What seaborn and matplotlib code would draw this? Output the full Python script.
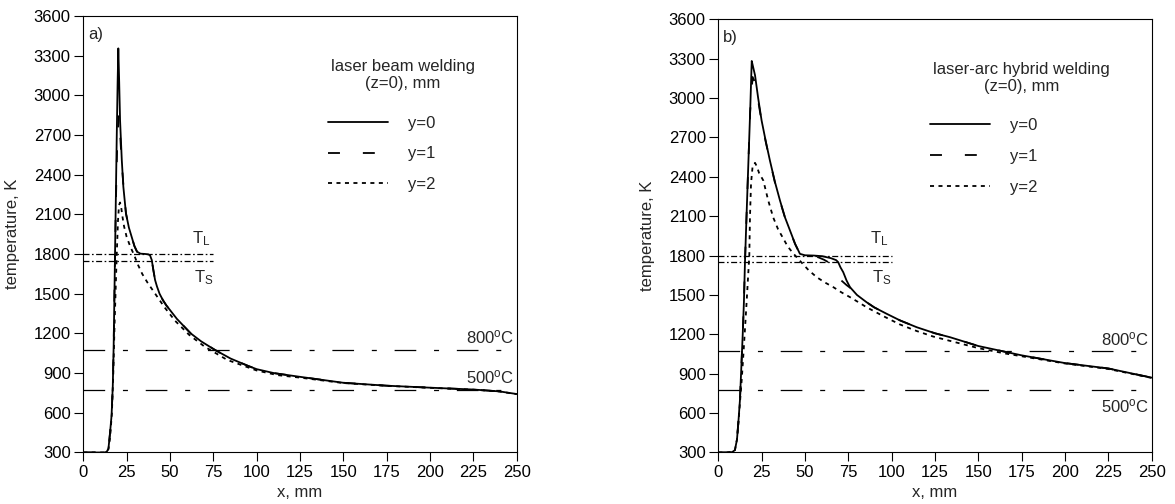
import numpy as np
import pandas as pd
import seaborn as sns
import matplotlib
import matplotlib.pyplot as plt
plt.switch_backend('agg')

# ---- data (x in mm, temperature in K) ----
series_names = ["y=0", "y=1", "y=2"]
x_ticks = [0, 25, 50, 75, 100, 125, 150, 175, 200, 225, 250]
t_ticks = [300, 600, 900, 1200, 1500, 1800, 2100, 2400, 2700, 3000, 3300, 3600]

# a) laser beam welding
a_x0 = [0, 12, 13.5, 14.5, 15.4, 16.3, 17.0, 17.5, 17.9, 18.3, 18.8, 19.3, 19.8, 20.2, 20.7, 21.2, 22.2, 23.1,
        24.6, 26.3, 27.9, 29.5, 31, 33, 35.5, 37.5, 38.5, 39.5, 40.4, 41.4, 42.5, 44, 46, 48, 50, 54, 58, 62,
        68, 76, 85, 95, 100, 110, 125, 150, 175, 200, 225, 240, 250]
a_t0 = [300, 300, 305, 330, 445, 580, 800, 1100, 1450, 1800, 2250, 2700, 3100, 3355, 3100, 2813, 2511, 2309,
        2108, 2000, 1930, 1860, 1818, 1803, 1801, 1798, 1790, 1755, 1680, 1604, 1555, 1500, 1450, 1410, 1377,
        1310, 1255, 1200, 1140, 1075, 1010, 955, 930, 900, 872, 827, 805, 790, 776, 762, 742]
a_x1 = [0, 12, 13.5, 14.5, 15.4, 16.3, 17.0, 17.5, 17.9, 18.3, 18.9, 19.6, 20.5, 21.1, 21.7, 22.4, 23.3,
        24.6, 26.3, 27.9, 29.5, 31, 33, 35.5, 37.5, 38.5, 39.5, 40.4, 41.4, 42.5, 44, 46, 48, 50, 54, 58, 62,
        68, 76, 85, 95, 100, 110, 125, 150, 175, 200, 225, 240, 250]
a_t1 = [300, 300, 305, 330, 445, 580, 800, 1100, 1450, 1800, 2250, 2650, 2850, 2740, 2600, 2450, 2290,
        2108, 2000, 1930, 1860, 1818, 1803, 1801, 1798, 1790, 1755, 1680, 1604, 1555, 1500, 1450, 1410, 1377,
        1310, 1255, 1200, 1140, 1075, 1010, 955, 930, 900, 872, 827, 805, 790, 776, 762, 742]
a_x2 = [0, 12, 13.5, 14.5, 15.5, 16.5, 17.3, 18, 18.7, 19.3, 20, 20.6, 21.2, 21.8, 22.5, 23.5, 25, 27,
        29.4, 31.5, 34, 37, 42, 47, 53, 61, 70, 83, 100, 112, 125, 150, 175, 200, 225, 240, 250]
a_t2 = [300, 300, 305, 325, 420, 600, 900, 1250, 1550, 1800, 2050, 2170, 2190, 2160, 2090, 2010, 1930, 1860,
        1790, 1720, 1650, 1585, 1490, 1395, 1295, 1190, 1100, 1000, 920, 885, 866, 825, 804, 789, 775, 761, 741]

# b) laser-arc hybrid welding
b_x0 = [0, 5, 8, 9.6, 10.8, 11.7, 12.5, 13.3, 14.1, 14.8, 15.4, 16.4, 17.4, 18.4, 19.3, 20.2, 21.2, 23, 25,
        27.4, 29.8, 32.7, 35.6, 38.5, 41.4, 44.3, 47.1, 50, 55, 60, 65, 68, 69.2, 70.5, 72.1, 74, 76, 80, 85.6,
        90, 97.2, 105, 114.5, 125, 133.7, 150, 175, 200, 225, 250]
b_t0 = [300, 300, 303, 318, 400, 550, 700, 950, 1200, 1450, 1750, 2140, 2520, 2900, 3282, 3230, 3173, 3000,
        2828, 2670, 2523, 2360, 2219, 2090, 1990, 1890, 1813, 1802, 1800, 1795, 1780, 1765, 1749, 1710, 1673,
        1610, 1559, 1500, 1444, 1405, 1356, 1305, 1254, 1208, 1178, 1111, 1040, 981, 940, 870]
b_x1 = [0, 5, 8, 9.6, 10.8, 11.7, 12.5, 13.3, 14.1, 14.8, 15.4, 16.4, 17.4, 18.4, 19.8, 21.2, 23, 25, 27.4,
        29.8, 32.7, 35.6, 38.5, 41.4, 44.3, 47.1, 50, 55, 58, 61, 63.5, 65.4, 68, 71, 74, 77, 80, 85.6, 90,
        97.2, 105, 114.5, 125, 133.7, 150, 175, 200, 225, 250]
b_t1 = [300, 300, 303, 318, 400, 550, 700, 950, 1200, 1450, 1750, 2140, 2520, 2900, 3160, 3120, 2980, 2820,
        2665, 2520, 2355, 2215, 2088, 1988, 1888, 1812, 1801, 1797, 1785, 1768, 1749, 1711, 1660, 1610, 1575,
        1545, 1500, 1444, 1405, 1356, 1305, 1254, 1208, 1178, 1111, 1040, 981, 940, 870]
b_x2 = [0, 5, 8, 9.6, 10.8, 11.7, 12.5, 13.5, 14.5, 15.5, 16.4, 17.2, 17.9, 18.3, 18.9, 19.8, 21.2, 22.2,
        23.5, 26, 28.8, 31.7, 34.5, 37.5, 40, 43, 47.1, 52, 56.8, 61.5, 66.4, 71, 76, 80.8, 85.6, 95, 104.8,
        114.5, 124, 133.7, 150, 165, 175, 200, 225, 250]
b_t2 = [300, 300, 303, 318, 400, 540, 680, 850, 1050, 1260, 1457, 1640, 1800, 2100, 2350, 2480, 2506, 2480,
        2430, 2371, 2220, 2090, 2000, 1930, 1870, 1820, 1760, 1690, 1635, 1595, 1559, 1520, 1483, 1445, 1406,
        1340, 1275, 1225, 1183, 1150, 1095, 1055, 1033, 978, 936, 868]

# reference temperatures, K
t_liquidus = 1800
t_solidus = 1750
t_800c = 1073
t_500c = 773

sns.set_style("ticks")
plt.rcParams['font.family'] = ['Liberation Sans', 'DejaVu Sans']
plt.rcParams['mathtext.fontset'] = 'custom'
plt.rcParams['mathtext.rm'] = 'Liberation Sans'
plt.rcParams['lines.scale_dashes'] = False
plt.rcParams['axes.linewidth'] = 0.8

FS = 12
dash_map = {"y=0": "", "y=1": (8.6, 16.5), "y=2": (2.9, 3.2)}


def long_frame(xs, ts):
    frames = []
    for name, x, t in zip(series_names, xs, ts):
        frames.append(pd.DataFrame({"x": x, "T": t, "series": name}))
    return pd.concat(frames, ignore_index=True)


def draw_panel(ax, xs, ts, tag, title, thr_end, tl_pos, ts_pos, lbl800, lbl500, leg_anchor, title_pos):
    df = long_frame(xs, ts)
    sns.lineplot(data=df, x="x", y="T", style="series", style_order=series_names, dashes=dash_map,
                 color="black", linewidth=1.3, estimator=None, sort=False, legend=False, ax=ax)
    handles = ax.get_lines()[:3]

    # liquidus / solidus
    ax.hlines([t_liquidus, t_solidus], 0, thr_end, colors="black", linewidth=0.9,
              linestyles=[(0, (4.3, 1.8, 1.2, 1.8))])
    # 800 C and 500 C
    for tt in (t_800c, t_500c):
        ax.axhline(tt, color="black", linewidth=0.9, linestyle=(0, (15.6, 12.8, 3.6, 12.8)))

    ax.text(tl_pos[0], tl_pos[1], r"$\mathregular{T_L}$", fontsize=FS, va="baseline", ha="left")
    ax.text(ts_pos[0], ts_pos[1], r"$\mathregular{T_S}$", fontsize=FS, va="baseline", ha="left")
    ax.text(248.5, lbl800, r"$\mathregular{800^oC}$", fontsize=FS, va="baseline", ha="right")
    ax.text(248.5, lbl500, r"$\mathregular{500^oC}$", fontsize=FS, va="baseline", ha="right")
    ax.text(2.7, 3458, tag, fontsize=FS, va="center", ha="left")

    ax.text(title_pos[0], title_pos[1], title, fontsize=FS, ha="center", va="center",
            multialignment="center", transform=ax.transAxes, linespacing=1.2)
    ax.legend(handles, series_names, loc="upper left", bbox_to_anchor=leg_anchor, frameon=False,
              fontsize=FS, borderpad=0, borderaxespad=0, handlelength=3.6, handletextpad=1.2,
              labelspacing=0.95)

    ax.set_xlim(0, 250)
    ax.set_ylim(300, 3600)
    ax.set_xticks(x_ticks)
    ax.set_yticks(t_ticks)
    ax.tick_params(direction="out", length=6.5, width=0.8, pad=2.5, labelsize=FS, colors="black")
    for pos in ['right', 'top', 'bottom', 'left']:
        ax.spines[pos].set_visible(True)
        ax.spines[pos].set_color("black")
    ax.set_xlabel("x, mm", fontsize=FS)
    ax.set_ylabel("temperature, K", fontsize=FS)
    ax.xaxis.set_label_coords(0.5, -0.075)
    ax.yaxis.set_label_coords(-0.147, 0.5)


fig = plt.figure(figsize=(11.75, 5.04), dpi=100)
ax_a = fig.add_axes([0.0709, 0.1022, 0.3688, 0.8661])
ax_b = fig.add_axes([0.6113, 0.1022, 0.3688, 0.8597])

draw_panel(ax_a, [a_x0, a_x1, a_x2], [a_t0, a_t1, a_t2], "a)", "laser beam welding\n(z=0), mm",
           75, (62.7, 1885), (64.0, 1585), 1122, 826, (0.565, 0.772), (0.738, 0.865))
draw_panel(ax_b, [b_x0, b_x1, b_x2], [b_t0, b_t1, b_t2], "b)", "laser-arc hybrid welding\n(z=0), mm",
           100, (87.5, 1893), (88.5, 1600), 1119, 605, (0.489, 0.772), (0.700, 0.864))

fig.savefig("out.png", dpi=100)
plt.close()
